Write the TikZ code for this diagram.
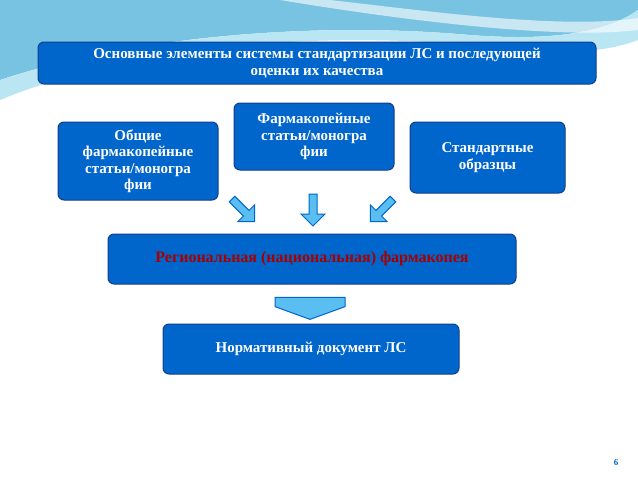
\documentclass[tikz,border=0pt]{standalone}
\usepackage{fontspec}
\setmainfont{Liberation Serif}
\usetikzlibrary{positioning,shapes.arrows}
\definecolor{boxblue}{RGB}{0,102,204}
\definecolor{edgeblue}{RGB}{20,60,140}
\definecolor{arrowblue}{RGB}{90,190,240}
\definecolor{skyA}{RGB}{120,195,225}
\definecolor{skyB}{RGB}{185,230,242}
\tikzset{
  bluebox/.style={draw=edgeblue, line width=1pt, fill=boxblue, rounded corners=6pt,
    text=white, font=\bfseries\fontsize{15}{16.5}\selectfont, align=center, inner sep=2pt},
  fatarrow/.style={single arrow, draw=boxblue, line width=1pt, fill=arrowblue,
    minimum height=32pt, minimum width=24pt, single arrow head extend=5pt, inner sep=2pt}
}
\begin{document}
\begin{tikzpicture}[x=1pt,y=-1pt]
  \useasboundingbox (0,0) rectangle (638,479);
  \fill[white] (0,0) rectangle (638,479);
  % top swoosh
  \fill[skyA] (0,0) -- (0,80) .. controls (120,40) and (300,20) .. (470,35)
     .. controls (560,42) and (610,30) .. (638,10) -- (638,0) -- cycle;
  \fill[skyB] (0,80) .. controls (120,40) and (300,20) .. (470,35)
     .. controls (560,42) and (610,30) .. (638,10) -- (638,40)
     .. controls (600,55) and (540,55) .. (470,45) .. controls (300,30) and (120,50) .. (0,100) -- cycle;
  \fill[white, opacity=.6] (280,0) .. controls (400,20) and (560,40) .. (638,30) -- (638,18)
     .. controls (560,30) and (420,10) .. (330,0) -- cycle;
  % boxes
  \node[bluebox, minimum width=558pt, minimum height=42pt] (title) at (317,63)
    {Основные элементы системы стандартизации ЛС и последующей\\оценки их качества};
  \node[bluebox, minimum width=160pt, minimum height=78pt] (general) at (138,161)
    {Общие\\фармакопейные\\статьи/моногра\\фии};
  \node[bluebox, minimum width=160pt, minimum height=67pt] (monog) at (314,136.5)
    {Фармакопейные\\статьи/моногра\\фии};
  \node[bluebox, minimum width=155pt, minimum height=71pt] (refstd) at (487.5,157.5)
    {Стандартные\\образцы};
  \node[bluebox, minimum width=408pt, minimum height=50pt, text=red!65!black,
    font=\bfseries\fontsize{16}{18}\selectfont] (pharm) at (312,259)
    {Региональная (национальная) фармакопея};
  \node[bluebox, minimum width=296pt, minimum height=50pt] (normdoc) at (311,349)
    {Нормативный документ ЛС};
  % arrows
  \node[fatarrow, rotate=-45] (arrL) at (242,209) {};
  \node[fatarrow, rotate=-90] (arrC) at (313,208) {};
  \node[fatarrow, rotate=-135] (arrR) at (383,209) {};
  \node[fatarrow, rotate=-90, minimum height=22pt, minimum width=70pt,
    single arrow head extend=0pt, single arrow tip angle=140] (arrD) at (310,302) {};
  \node[text=boxblue, font=\bfseries\small] (page) at (616,463) {6};
\end{tikzpicture}
\end{document}
